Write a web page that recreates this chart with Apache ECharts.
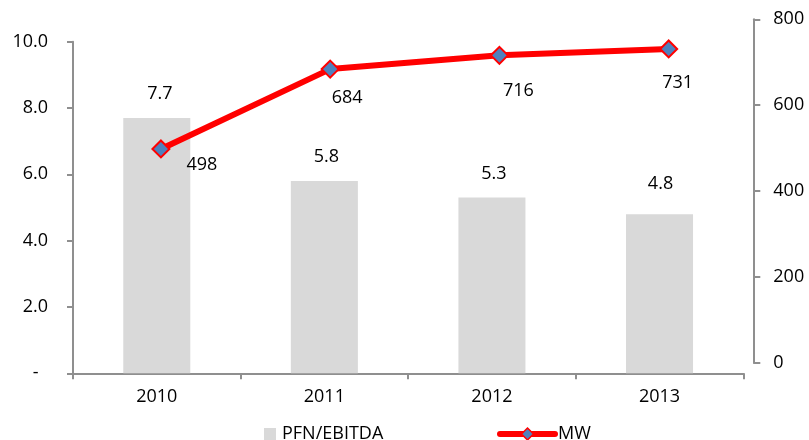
<!DOCTYPE html>
<html>
<head>
<meta charset="utf-8">
<script src="https://cdn.jsdelivr.net/npm/echarts@6/dist/echarts.min.js"></script>
<style>html,body{margin:0;padding:0;background:#fff}#c{width:809px;height:440px}</style>
</head>
<body>
<div id="c"></div>
<script>
const categories = ['2010', '2011', '2012', '2013'];
const pfnEbitda = [7.7, 5.8, 5.3, 4.8];
const mw = [498, 684, 716, 731];
const leftTicks = { min: 0, max: 10, interval: 2 };
const rightTicks = { min: 0, max: 800, interval: 200 };
// manual label placements (offsets from mark, in px)
const mwLabelOffsets = [[41, 16], [17, 29], [19, 36], [9, 34]];
const barLabelOffsets = [[3, 0], [2, 0], [2, 0], [1, -6]];

const FONT = 'Open Sans';
const axisColor = '#8f8f8f';
const chart = echarts.init(document.getElementById('c'), null, { renderer: 'canvas' });
chart.setOption({
  animation: false,
  backgroundColor: '#fff',
  textStyle: { fontFamily: FONT },
  grid: [
    { left: 73, right: 65.7, top: 41.7, bottom: 66.7 },
    { left: 76.3, right: 55.7, top: 19.3, bottom: 77.3 }
  ],
  legend: [
    { data: ['PFN/EBITDA'], left: 264, top: 425, padding: 0, itemWidth: 12, itemHeight: 12, icon: 'rect',
      textStyle: { fontSize: 18, color: '#000', fontFamily: FONT, padding: [0, 0, 0, 1] } },
    { data: [{ name: 'MW' }], left: 497, top: 425, padding: 0, itemWidth: 55, itemHeight: 15,
      lineStyle: { width: 6, cap: 'round' },
      itemStyle: { color: '#4F81BD', borderColor: '#FF0000', borderWidth: 1.5 },
      textStyle: { fontSize: 18, color: '#000', fontFamily: FONT, padding: [0, 0, 0, -2] } }
  ],
  xAxis: [
    { type: 'category', gridIndex: 0, data: categories, boundaryGap: true,
      axisLine: { lineStyle: { color: axisColor, width: 2 } },
      axisTick: { show: true, length: 6, lineStyle: { color: axisColor, width: 2 } },
      axisLabel: { color: '#000', fontSize: 18, margin: 15, fontFamily: FONT },
      splitLine: { show: false } },
    { type: 'category', gridIndex: 1, data: categories, boundaryGap: true, show: false }
  ],
  yAxis: [
    { type: 'value', gridIndex: 0, position: 'left', min: leftTicks.min, max: leftTicks.max, interval: leftTicks.interval,
      axisLine: { show: true, lineStyle: { color: axisColor, width: 2 } },
      axisTick: { show: true, length: 6, lineStyle: { color: axisColor, width: 2 } },
      axisLabel: { color: '#000', fontSize: 18, margin: 25, fontFamily: FONT,
        formatter: v => v === 0 ? '-  ' : v.toFixed(1) },
      splitLine: { show: false } },
    { type: 'value', gridIndex: 1, position: 'right', min: rightTicks.min, max: rightTicks.max, interval: rightTicks.interval,
      axisLine: { show: true, lineStyle: { color: axisColor, width: 2 } },
      axisTick: { show: true, length: 7, lineStyle: { color: axisColor, width: 2 } },
      axisLabel: { color: '#000', fontSize: 18, margin: 20, fontFamily: FONT },
      splitLine: { show: false } }
  ],
  series: [
    { name: 'PFN/EBITDA', type: 'bar', xAxisIndex: 0, yAxisIndex: 0, barWidth: '40%',
      itemStyle: { color: '#D9D9D9' },
      data: pfnEbitda.map((v, i) => ({ value: v, label: { offset: barLabelOffsets[i] } })),
      label: { show: true, position: 'top', distance: 15, color: '#000', fontSize: 18, fontFamily: FONT,
        formatter: p => p.value.toFixed(1) } },
    { name: 'MW', type: 'line', xAxisIndex: 1, yAxisIndex: 1,
      lineStyle: { color: '#FF0000', width: 6 },
      symbol: 'diamond', symbolSize: 17,
      itemStyle: { color: '#4F81BD', borderColor: '#FF0000', borderWidth: 2 },
      data: mw.map((v, i) => ({ value: v, label: { offset: mwLabelOffsets[i] } })),
      label: { show: true, position: 'inside', color: '#000', fontSize: 18, fontFamily: FONT,
        align: 'center', verticalAlign: 'middle' },
      z: 5 }
  ]
});
</script>
</body>
</html>
